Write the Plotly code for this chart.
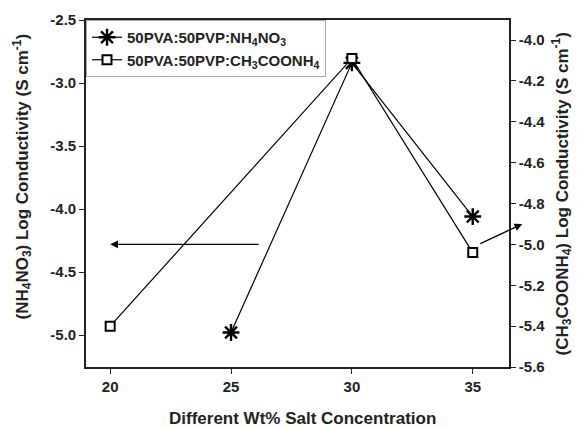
import plotly.graph_objects as go

# Salt concentration (wt%) and log conductivity for each blend
nh4no3_wt = [25, 30, 35]
nh4no3_logsigma = [-4.98, -2.84, -4.06]

ch3coonh4_wt = [20, 30, 35]
ch3coonh4_logsigma = [-5.40, -4.09, -5.04]

x_ticks = [20, 25, 30, 35]
left_ticks = [-5.0, -4.5, -4.0, -3.5, -3.0, -2.5]
right_ticks = [-5.6, -5.4, -5.2, -5.0, -4.8, -4.6, -4.4, -4.2, -4.0]

FONT = "Liberation Sans, Arial, sans-serif"
INK = "#222"


def bold_labels(values, fmt):
    return ["<b>" + format(v, fmt) + "</b>" for v in values]


fig = go.Figure()

fig.add_trace(go.Scatter(
    x=nh4no3_wt, y=nh4no3_logsigma, mode="lines+markers",
    name="<b>50PVA:50PVP:NH<sub>4</sub>NO<sub>3</sub></b>",
    line=dict(color="black", width=1.2),
    marker=dict(symbol="asterisk-open", size=14, color="black",
                line=dict(color="black", width=2.4)),
    yaxis="y",
))

fig.add_trace(go.Scatter(
    x=ch3coonh4_wt, y=ch3coonh4_logsigma, mode="lines+markers",
    name="<b>50PVA:50PVP:CH<sub>3</sub>COONH<sub>4</sub></b>",
    line=dict(color="black", width=1.2),
    marker=dict(symbol="square", size=9, color="white",
                line=dict(color="black", width=2)),
    yaxis="y2",
))

# arrows pointing each curve to its own axis
fig.add_annotation(x=20, y=-4.28, ax=26.2, ay=-4.28, xref="x", yref="y",
                   axref="x", ayref="y", showarrow=True, arrowhead=2,
                   arrowsize=1.2, arrowwidth=1.3, arrowcolor="black", text="")
fig.add_annotation(x=37.05, y=-4.90, ax=35.25, ay=-5.0, xref="x", yref="y2",
                   axref="x", ayref="y2", showarrow=True, arrowhead=2,
                   arrowsize=1.2, arrowwidth=1.3, arrowcolor="black", text="")

title_font = dict(family=FONT, size=17, color=INK)

# axis titles
fig.add_annotation(
    text="<b>(NH<sub>4</sub>NO<sub>3</sub>) Log Conductivity (S cm<sup>-1</sup>)</b>",
    textangle=-90, xref="paper", yref="paper", x=-0.150, y=0.548,
    xanchor="center", yanchor="middle", showarrow=False, font=title_font)
fig.add_annotation(
    text="<b>(CH<sub>3</sub>COONH<sub>4</sub>) Log Conductivity (S cm<sup>-1</sup>)</b>",
    textangle=-90, xref="paper", yref="paper", x=1.125, y=0.5,
    xanchor="center", yanchor="middle", showarrow=False, font=title_font)
fig.add_annotation(
    text="<b>Different Wt% Salt Concentration</b>",
    xref="paper", yref="paper", x=0.513, y=-0.147,
    xanchor="center", yanchor="middle", showarrow=False, font=title_font)

axis_common = dict(
    showline=True, linecolor=INK, linewidth=1.6,
    ticks="outside", ticklen=5, tickwidth=1.4, tickcolor=INK,
    showgrid=False, zeroline=False,
    tickfont=dict(family=FONT, size=15, color=INK),
)

fig.update_layout(
    width=577, height=428,
    margin=dict(l=86, r=68, t=20, b=61),
    paper_bgcolor="white", plot_bgcolor="white",
    font=dict(family=FONT, color=INK),
    showlegend=True,
    legend=dict(x=0, y=1, xanchor="left", yanchor="top",
                bgcolor="white", bordercolor="#aaa", borderwidth=1,
                font=dict(family=FONT, size=15, color=INK),
                tracegroupgap=0, itemwidth=30),
    xaxis=dict(range=[19.0, 36.5], tickvals=x_ticks,
               ticktext=bold_labels(x_ticks, "d"), mirror=True,
               **axis_common),
    yaxis=dict(range=[-5.254, -2.5], tickvals=left_ticks,
               ticktext=bold_labels(left_ticks, ".1f"), **axis_common),
    yaxis2=dict(range=[-5.6, -3.902], tickvals=right_ticks,
                ticktext=bold_labels(right_ticks, ".1f"),
                overlaying="y", side="right", anchor="x", **axis_common),
)

fig.write_html("out.html")
